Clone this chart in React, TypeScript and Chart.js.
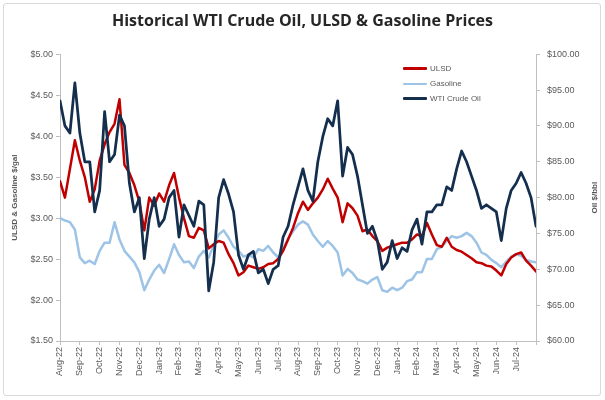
import { useEffect, useRef } from "react";
import { Chart, registerables } from "chart.js";

Chart.register(...registerables);

// Month tick labels (one per month, starting Aug 2022)
const monthLabels = [
  "Aug-22", "Sep-22", "Oct-22", "Nov-22", "Dec-22", "Jan-23", "Feb-23", "Mar-23",
  "Apr-23", "May-23", "Jun-23", "Jul-23", "Aug-23", "Sep-23", "Oct-23", "Nov-23",
  "Dec-23", "Jan-24", "Feb-24", "Mar-24", "Apr-24", "May-24", "Jun-24", "Jul-24",
];

// Samples are roughly weekly: 4 samples per month, starting 1 Aug 2022
const SAMPLES_PER_MONTH = 4;

// ULSD $/gal (left axis)
const ulsd = [
  3.45, 3.25, 3.6, 3.95, 3.7, 3.5, 3.2, 3.35, 3.7, 3.9,
  4.05, 4.15, 4.45, 3.65, 3.55, 3.4, 3.2, 2.85, 3.25, 3.15,
  3.3, 3.2, 3.4, 3.55, 3.25, 3.0, 2.78, 2.76, 2.88, 2.85,
  2.63, 2.68, 2.72, 2.7, 2.56, 2.45, 2.3, 2.34, 2.42, 2.4,
  2.38, 2.4, 2.44, 2.45, 2.5, 2.6, 2.74, 2.88, 3.06, 3.2,
  3.1, 3.18, 3.25, 3.35, 3.48, 3.36, 3.25, 2.95, 3.18, 3.12,
  3.03, 2.84, 2.86, 2.78, 2.72, 2.6, 2.64, 2.66, 2.68, 2.7,
  2.7, 2.74, 2.8, 2.78, 2.94, 2.8, 2.67, 2.65, 2.76, 2.65,
  2.61, 2.59, 2.55, 2.51, 2.46, 2.45, 2.42, 2.41, 2.36, 2.3,
  2.44, 2.52, 2.56, 2.58, 2.48, 2.42, 2.35,
];

// Gasoline $/gal (left axis)
const gasoline = [
  3.0, 2.97, 2.95, 2.86, 2.52, 2.45, 2.48, 2.44, 2.6, 2.7,
  2.7, 2.95, 2.74, 2.6, 2.53, 2.46, 2.34, 2.12, 2.25, 2.36,
  2.43, 2.33, 2.5, 2.68, 2.55, 2.46, 2.47, 2.39, 2.53, 2.6,
  2.52, 2.67, 2.8, 2.85, 2.76, 2.65, 2.6, 2.53, 2.55, 2.52,
  2.62, 2.6, 2.66, 2.58, 2.52, 2.62, 2.75, 2.84, 2.92, 2.96,
  2.92, 2.8, 2.72, 2.65, 2.72, 2.66, 2.58, 2.3, 2.38, 2.33,
  2.25, 2.23, 2.2, 2.25, 2.28, 2.12, 2.1, 2.15, 2.12, 2.15,
  2.23, 2.25, 2.34, 2.34, 2.5, 2.5, 2.62, 2.65, 2.72, 2.78,
  2.76, 2.78, 2.82, 2.78, 2.7, 2.58, 2.55, 2.49, 2.45, 2.4,
  2.47, 2.53, 2.56, 2.54, 2.49, 2.47, 2.46,
];

// WTI crude $/bbl (right axis)
const wti = [
  93.5, 90, 89, 96, 89, 85, 85, 78, 81, 92,
  85, 86, 91.5, 90, 82, 78, 80, 71.5, 77, 80,
  76, 77, 80, 81, 74.5, 79, 77.5, 76, 79.5, 79,
  67, 71, 80, 82.5, 80.5, 78, 72, 70, 72, 72.5,
  69.5, 70, 68, 70, 70.5, 74.5, 76, 79, 81.5, 84,
  81, 79.5, 85, 88.5, 91, 90, 93.5, 83, 87, 86,
  83, 79, 75, 76, 74, 70, 71, 74, 71.5, 73,
  72.5, 75.5, 77, 73.5, 78, 78, 79, 79, 81.5, 81,
  84, 86.5, 85, 83, 81, 78.5, 79, 78.5, 78, 74,
  78.5, 81, 82, 83.5, 82, 80, 76,
];

const seriesNames = ["ULSD", "Gasoline", "WTI Crude Oil"];
const seriesColors = ["#C00000", "#9DC3E6", "#142E4D"];

const toPoints = (arr: number[]) =>
  arr.map((v, i) => ({ x: i / SAMPLES_PER_MONTH, y: v }));

const TICK_COLOR = "#595959";
const AXIS_COLOR = "#BFBFBF";
const FONT = "'Liberation Sans', Arial, sans-serif";

export default function App() {
  const canvasRef = useRef<HTMLCanvasElement | null>(null);

  useEffect(() => {
    document.body.style.margin = "0";
    const canvas = canvasRef.current;
    if (!canvas) return;

    const rightTitle = {
      id: "rightTitle",
      afterDraw(chart: any) {
        const s = chart.scales.y1;
        const ctx = chart.ctx;
        ctx.save();
        ctx.translate(s.right - 10, (s.top + s.bottom) / 2);
        ctx.rotate(-Math.PI / 2);
        ctx.font = `bold 8px ${FONT}`;
        ctx.fillStyle = TICK_COLOR;
        ctx.textAlign = "center";
        ctx.textBaseline = "middle";
        ctx.fillText("Oil $/bbl", 0, 0);
        ctx.restore();
      },
    };

    const tickFont = { family: FONT, size: 9 };

    const chart = new Chart(canvas, {
      type: "line",
      data: {
        datasets: [
          {
            label: seriesNames[0],
            data: toPoints(ulsd),
            borderColor: seriesColors[0],
            backgroundColor: seriesColors[0],
            borderWidth: 2.5,
            yAxisID: "y",
            order: 2,
          },
          {
            label: seriesNames[1],
            data: toPoints(gasoline),
            borderColor: seriesColors[1],
            backgroundColor: seriesColors[1],
            borderWidth: 2.5,
            yAxisID: "y",
            order: 3,
          },
          {
            label: seriesNames[2],
            data: toPoints(wti),
            borderColor: seriesColors[2],
            backgroundColor: seriesColors[2],
            borderWidth: 2.75,
            yAxisID: "y1",
            order: 1,
          },
        ],
      },
      options: {
        animation: false,
        responsive: false,
        maintainAspectRatio: false,
        events: [],
        layout: { padding: 0 },
        elements: {
          point: { radius: 0 },
          line: { tension: 0, borderJoinStyle: "round", borderCapStyle: "round" },
        },
        plugins: {
          legend: { display: false },
          tooltip: { enabled: false },
          title: {
            display: true,
            text: "Historical WTI Crude Oil, ULSD & Gasoline Prices",
            color: "#262626",
            font: { family: "'Open Sans', sans-serif", size: 16, weight: "bold" },
            padding: { top: 12, bottom: 23 },
          },
        },
        scales: {
          x: {
            type: "linear",
            min: 0,
            max: 24,
            afterFit: (s: any) => {
              s.height = 59;
            },
            afterBuildTicks: (s: any) => {
              s.ticks = monthLabels.map((_, i) => ({ value: i })).concat([{ value: 24 }]);
            },
            ticks: {
              autoSkip: false,
              maxRotation: 90,
              minRotation: 90,
              padding: 2,
              color: TICK_COLOR,
              font: tickFont,
              callback: (v: any) => monthLabels[v] ?? "",
            },
            grid: { drawOnChartArea: false, drawTicks: true, tickLength: 4, color: AXIS_COLOR },
            border: { color: AXIS_COLOR },
          },
          y: {
            position: "left",
            min: 1.5,
            max: 5,
            afterFit: (s: any) => {
              s.width = 60;
            },
            ticks: {
              stepSize: 0.5,
              padding: 3,
              color: TICK_COLOR,
              font: tickFont,
              callback: (v: any) => "$" + Number(v).toFixed(2),
            },
            grid: { drawOnChartArea: false, drawTicks: true, tickLength: 4, color: AXIS_COLOR },
            border: { color: AXIS_COLOR },
            title: {
              display: true,
              text: "ULSD & Gasoline $/gal",
              color: TICK_COLOR,
              font: { family: FONT, size: 8, weight: "bold" },
              padding: { top: 10, bottom: 0 },
            },
          },
          y1: {
            position: "right",
            min: 60,
            max: 100,
            afterFit: (s: any) => {
              s.width = 69;
            },
            ticks: {
              stepSize: 5,
              padding: 7,
              color: TICK_COLOR,
              font: tickFont,
              callback: (v: any) => "$" + Number(v).toFixed(2),
            },
            grid: { drawOnChartArea: false, drawTicks: true, tickLength: 4, color: AXIS_COLOR },
            border: { color: AXIS_COLOR },
          },
        },
      } as any,
      plugins: [rightTitle],
    });

    return () => chart.destroy();
  }, []);

  return (
    <div style={{ position: "relative", width: 605, height: 400, background: "#fff" }}>
      <div
        style={{
          position: "absolute",
          left: 3,
          top: 3,
          width: 598,
          height: 393,
          border: "1px solid #D9D9D9",
          borderRadius: 3,
          boxSizing: "border-box",
        }}
      />
      <canvas
        ref={canvasRef}
        width={605}
        height={400}
        style={{ position: "absolute", left: 0, top: 0, width: 605, height: 400 }}
      />
      <div
        style={{
          position: "absolute",
          left: 403,
          top: 61,
          fontFamily: FONT,
          fontSize: 8,
          color: TICK_COLOR,
          lineHeight: "15px",
        }}
      >
        {seriesNames.map((name, i) => (
          <div key={name} style={{ display: "flex", alignItems: "center", height: 15 }}>
            <span
              style={{
                display: "inline-block",
                width: 24,
                height: i === 1 ? 2 : 3,
                background: seriesColors[i],
                marginRight: 3,
                borderRadius: 1,
              }}
            />
            <span>{name}</span>
          </div>
        ))}
      </div>
    </div>
  );
}
